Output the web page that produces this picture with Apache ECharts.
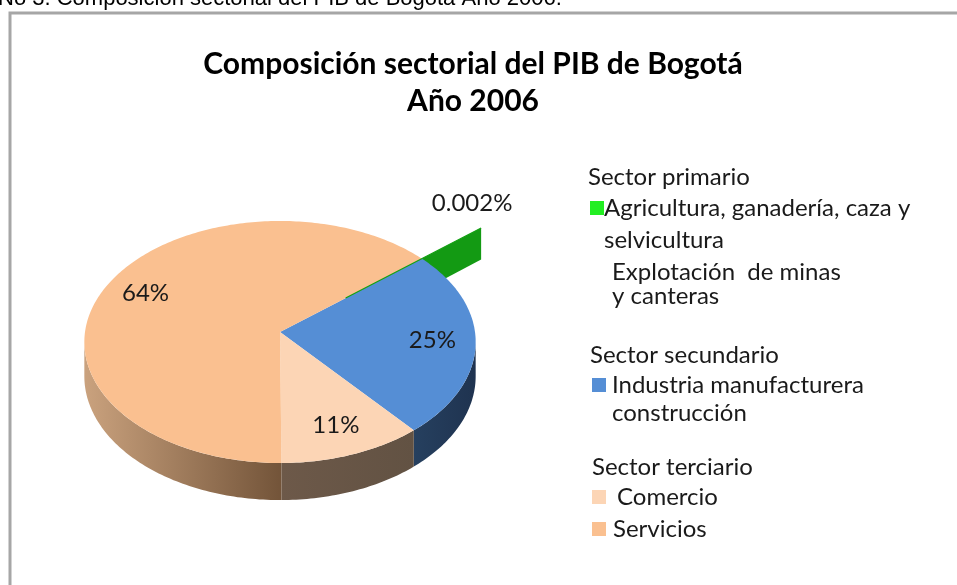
<!DOCTYPE html>
<html>
<head>
<meta charset="utf-8">
<script src="https://cdn.jsdelivr.net/npm/echarts@6/dist/echarts.min.js"></script>
<style>
  html, body { margin: 0; padding: 0; background: #fff; }
  #chart { width: 957px; height: 585px; }
</style>
</head>
<body>
<div id="chart"></div>
<script>
// datos (participación % en el PIB de Bogotá, 2006)
const sectorNames = ['Agricultura, ganadería, caza y selvicultura', 'Explotación de minas y canteras', 'Industria manufacturera construcción', 'Comercio', 'Servicios']
const sectorShares = [0.002, 0, 25, 11, 64]
const groupNames = ['Sector primario', 'Sector secundario', 'Sector terciario']
const legendLines = [['Agricultura, ganadería, caza y', 'selvicultura'], ['Explotación  de minas', 'y canteras'], ['Industria manufacturera', 'construcción'], ['Comercio'], ['Servicios']]

// colores (cara superior / pared lateral / marcador de leyenda)
const topColors = ['#13a013', '#13a013', '#558ed5', '#fcd5b5', '#fac090']
const sideColors = [['#139a13', '#139a13'], ['#139a13', '#139a13'], ['#26405f', '#1f3350'], ['#6d5949', '#625243'], ['#caa27e', '#735439']]
const markerColors = ['#22ee22', null, '#558ed5', '#fcd5b5', '#fac090']

const FONT = 'Lato, "Open Sans", sans-serif'

// torta 3D en perspectiva: angulo theta, radio r (0..1), altura h (0 arriba, 1 abajo)
const pie = {
  ax: 280, ay: 332, // vertice de los sectores
  R: 195, Rv: 120.2,
  k: 0.0826, // perspectiva (fondo mas pequeño)
  depth: 34,
  start: 40,
  explode: 0.45,
  labelR: 0.78
}
const DEG = Math.PI / 180
const total = sectorShares.reduce((a, b) => a + b, 0)

const sliceStart = []
let acc = 0
sectorShares.forEach(v => {
  sliceStart.push(pie.start - acc / total * 360)
  acc += v
})

function proj (theta, r, h) {
  const c = Math.cos(theta * DEG)
  const s = Math.sin(theta * DEG)
  const w = 1 + pie.k * r * s
  return [pie.ax + pie.R * r * c / w, pie.ay + (-pie.Rv * r * s + pie.depth * h) / w]
}

function fmtShare (v) {
  return v < 1 ? v.toFixed(3) + '%' : Math.round(v) + '%'
}

function arc (from, to, r, h) {
  const pts = []
  const n = Math.max(1, Math.ceil(Math.abs(from - to)))
  for (let k = 0; k <= n; k++) pts.push(proj(from + (to - from) * k / n, r, h))
  return pts
}

function renderSlice (params, api) {
  const i = api.value(0)
  const share = api.value(1)
  if (!share) return
  const t1 = sliceStart[i]
  const t2 = t1 - share / total * 360
  const mid = (t1 + t2) / 2
  const exploded = share < 1
  const r0 = exploded ? pie.explode : 0
  const r1 = 1 + r0
  const px = p => api.coord(p)
  const children = []

  // pared frontal curva (entre las siluetas izquierda y derecha)
  const edge = Math.asin(pie.k) / DEG
  const lo = Math.max(t2, -180 + edge)
  const hi = Math.min(t1, -edge)
  if (hi > lo && !exploded) {
    const upper = arc(hi, lo, 1, 0)
    const lower = arc(lo, hi, 1, 1)
    children.push({
      type: 'polygon',
      z2: 1,
      shape: { points: upper.concat(lower).map(px) },
      style: {
        fill: new echarts.graphic.LinearGradient(0, 0, 1, 0, [
          { offset: 0, color: sideColors[i][0] },
          { offset: 1, color: sideColors[i][1] }
        ])
      }
    })
  }

  // pared radial del sector separado
  if (exploded) {
    children.push({
      type: 'polygon',
      z2: 0,
      shape: { points: [proj(mid, r0, 0), proj(mid, r1, 0), proj(mid, r1, 1), proj(mid, r0, 1)].map(px) },
      style: { fill: sideColors[i][0] }
    })
  }

  // cara superior
  const off = exploded ? [proj(mid, r0, 0)] : [proj(0, 0, 0)]
  const face = off.concat(exploded ? [proj(mid, r1, 0)] : arc(t1, t2, 1, 0))
  children.push({
    type: 'polygon',
    z2: exploded ? 5 : 2,
    shape: { points: face.map(px) },
    style: exploded
      ? { fill: topColors[i], stroke: topColors[i], lineWidth: 1.2 }
      : { fill: topColors[i] }
  })

  // etiqueta
  let lp
  if (exploded) {
    const tip = px(proj(mid, r1, 0))
    lp = [tip[0] - 9, tip[1] - 25]
  } else {
    lp = px(proj(mid, pie.labelR, 0))
  }
  children.push({
    type: 'text',
    z2: 6,
    x: lp[0],
    y: lp[1],
    style: {
      text: fmtShare(share),
      fill: '#1a1a1a',
      font: '24px ' + FONT,
      align: 'center',
      verticalAlign: 'middle'
    }
  })

  return { type: 'group', children: children }
}

// leyenda dibujada a mano (encabezados de sector + items)
const legendGraphics = []
function heading (g, x, y) {
  legendGraphics.push({
    type: 'text', x: x, y: y,
    style: { text: groupNames[g], fill: '#1a1a1a', font: '24px ' + FONT, verticalAlign: 'middle' }
  })
}
function item (i, x, y, textX, lineGap) {
  if (markerColors[i]) {
    legendGraphics.push({
      type: 'rect', shape: { x: x, y: y - 7, width: 14, height: 14 },
      style: { fill: markerColors[i] }
    })
  }
  legendGraphics.push({
    type: 'text', x: textX, y: y,
    style: {
      text: legendLines[i].join('\n'),
      fill: '#1a1a1a',
      font: '24px ' + FONT,
      lineHeight: lineGap,
      verticalAlign: 'top',
      padding: [-lineGap / 2, 0, 0, 0]
    }
  })
}
heading(0, 588, 177)
item(0, 590, 208, 604, 32)
item(1, 590, 272, 612, 24)
heading(1, 590, 355)
item(2, 592, 385, 612, 28)
heading(2, 592, 467)
item(3, 592, 497, 617, 30)
item(4, 592, 529, 613, 30)

const chart = echarts.init(document.getElementById('chart'))
chart.setOption({
  animation: false,
  title: {
    text: 'Composición sectorial del PIB de Bogotá\nAño 2006',
    left: 473,
    top: 46,
    padding: 0,
    textAlign: 'center',
    textStyle: { fontFamily: FONT, fontSize: 30, fontWeight: 'bold', color: '#000', lineHeight: 37 }
  },
  grid: { left: 0, right: 0, top: 0, bottom: 0 },
  xAxis: { type: 'value', min: 0, max: 957, show: false },
  yAxis: { type: 'value', min: 0, max: 585, inverse: true, show: false },
  graphic: [
    {
      type: 'rect', z: -10, silent: true,
      shape: { x: 10, y: 13, width: 1200, height: 800 },
      style: { fill: '#fff', stroke: '#a6a6a6', lineWidth: 3 }
    },
    {
      type: 'text', z: -5, x: -2, y: 10,
      style: {
        text: 'No 3. Composición sectorial del PIB de Bogotá Año 2006.',
        fill: '#000', font: '22px "Liberation Sans", Arial, sans-serif',
        verticalAlign: 'bottom'
      }
    }
  ].concat(legendGraphics),
  series: [{
    type: 'custom',
    name: 'PIB Bogotá 2006',
    coordinateSystem: 'cartesian2d',
    renderItem: renderSlice,
    data: sectorShares.map((v, i) => ({ name: sectorNames[i], value: [i, v] }))
  }]
})
</script>
</body>
</html>
